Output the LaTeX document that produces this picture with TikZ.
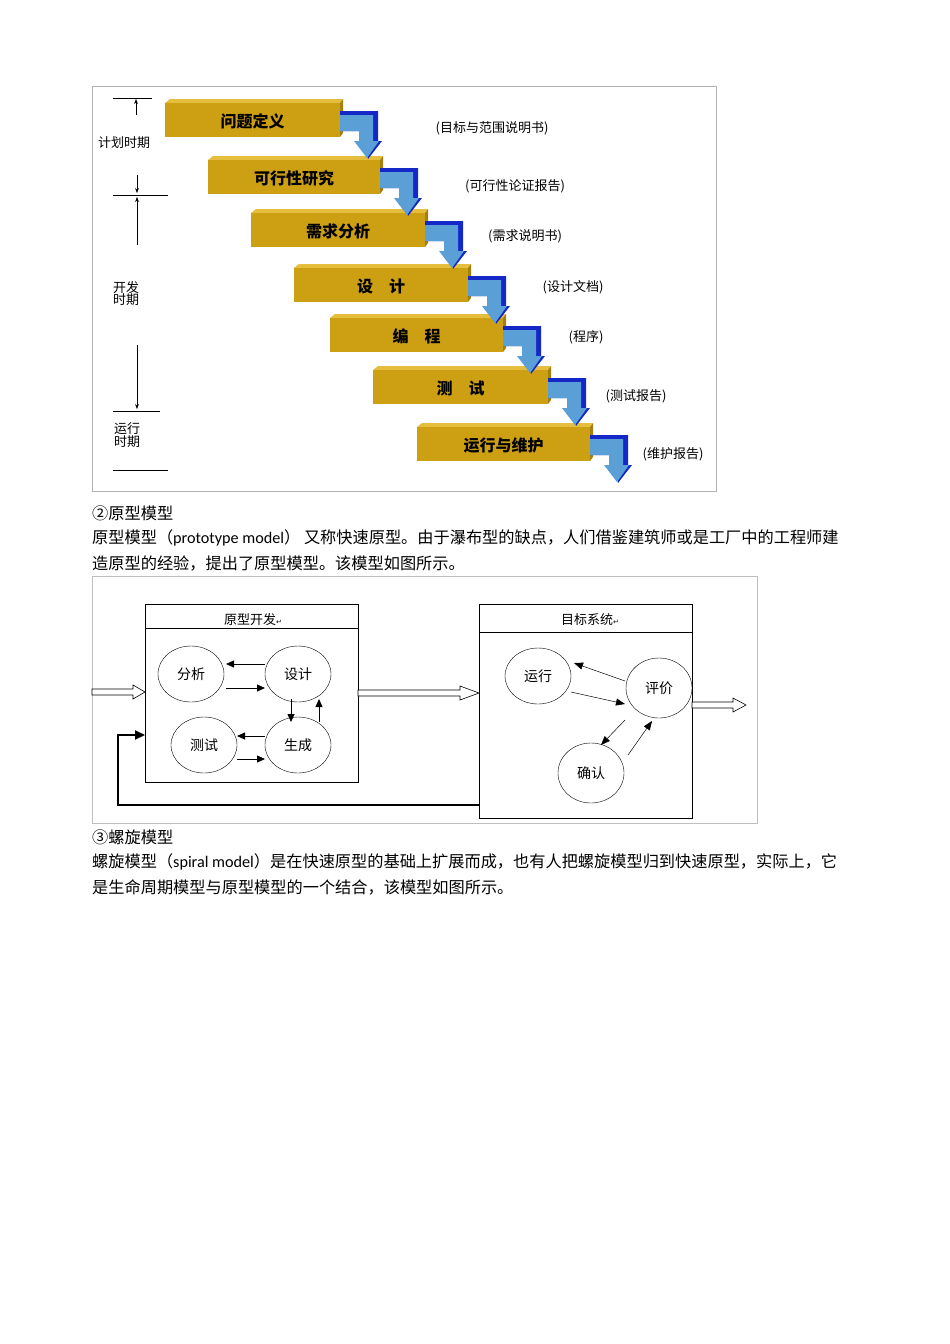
\documentclass[tikz,border=0pt]{standalone}
\usepackage{fontspec}
\setmainfont{Liberation Serif}
\newfontfamily\cjk{Noto Sans CJK SC}
\newfontfamily\lat{Carlito}
\newfontfamily\djv{DejaVu Sans}
\usetikzlibrary{arrows.meta,shapes.geometric}
\definecolor{gold}{RGB}{205,160,20}
\definecolor{goldtop}{RGB}{228,190,60}
\definecolor{lblue}{RGB}{90,160,215}
\definecolor{dblue}{RGB}{20,40,200}
\tikzset{
 bar/.style={font=\cjk\bfseries\fontsize{16}{18}\selectfont},
 ann/.style={font=\cjk\fontsize{13}{15}\selectfont,anchor=center},
 lbl/.style={font=\cjk\fontsize{13}{15}\selectfont,align=left},
 para/.style={font=\cjk\fontsize{16.2}{18}\selectfont,anchor=west,inner sep=0pt},
 bub/.style={draw,ellipse,minimum width=66pt,minimum height=56pt,font=\cjk\fontsize{14}{16}\selectfont,inner sep=0pt},
 ar/.style={-{Triangle[length=8pt,width=7pt]},line width=0.8pt},
 thin/.style={line width=0.5pt},
 hollow/.style={draw,line width=0.6pt,fill=white},
}
\newcommand{\retmark}{{\djv\fontsize{7}{7}\selectfont ↵}}
\begin{document}
\begin{tikzpicture}[x=1pt,y=-1pt]
\useasboundingbox (0,0) rectangle (950,1344);
% frame 1
\draw[gray!60] (92,86) rectangle (716,491);
% bars
\foreach \l/\r/\t/\txt in {165/340/103/问题定义,208/380/160/可行性研究,251/425/213/需求分析,294/468/268/设\quad 计,330/503/318/编\quad 程,373/548/370/测\quad 试,417/590/427/运行与维护}{
  \fill[goldtop] (\l+5,\t-4) -- (\r+3,\t-4) -- (\r,\t) -- (\l,\t) -- cycle;
  \fill[gold] (\l,\t) rectangle (\r,\t+34);
  \fill[gold!80!black] (\r,\t) -- (\r+3,\t-4) -- (\r+3,\t+30) -- (\r,\t+34) -- cycle;
  \node[bar] at ({(\l+\r)/2},\t+18) {\txt};
}
\foreach \r/\t in {340/103,380/160,425/213,468/268,503/318,548/370,590/427}{
  \fill[dblue] (\r,\t+8) -- (\r+38,\t+8) -- (\r+38,\t+38) -- (\r+42,\t+38) -- (\r+28,\t+56) -- (\r+24,\t+38)--(\r+24,\t+28)--(\r,\t+28)--cycle;
  \fill[lblue] (\r,\t+12) -- (\r+33,\t+12) -- (\r+33,\t+38) -- (\r+39,\t+38) -- (\r+27,\t+55) -- (\r+14,\t+38) -- (\r+19,\t+38) -- (\r+19,\t+28) -- (\r,\t+28) -- cycle;
}
\node[ann] (a1) at (492,128) {(目标与范围说明书)};
\node[ann] (a2) at (515,186) {(可行性论证报告)};
\node[ann] (a3) at (525,236) {(需求说明书)};
\node[ann] (a4) at (573,287) {(设计文档)};
\node[ann] (a5) at (586,337) {(程序)};
\node[ann] (a6) at (636,396) {(测试报告)};
\node[ann] (a7) at (673,454) {(维护报告)};
% timeline
\draw[thin] (113,98) -- (152,98);
\draw[thin,-{Stealth[length=5pt]}] (136,115) -- (136,99);
\node[lbl] at (124,143) {计划时期};
\draw[thin,-{Stealth[length=5pt]}] (137,175) -- (137,193);
\draw[thin] (113,195) -- (168,195);
\draw[thin,-{Stealth[length=5pt]}] (137,245) -- (137,197);
\node[lbl,align=center] at (126,294) {开发\\[-3pt]时期};
\draw[thin,-{Stealth[length=5pt]}] (137,345) -- (137,409);
\draw[thin] (113,411) -- (160,411);
\node[lbl,align=left,font=\cjk\fontsize{13}{11}\selectfont] at (127,435) {运行\\时期};
\draw[thin] (113,470) -- (168,470);
% text
\node[para] (h2) at (92,513) {②原型模型};
\node[para] (p1) at (92,538) {原型模型（{\lat prototype model}） 又称快速原型。由于瀑布型的缺点，人们借鉴建筑师或是工厂中的工程师建};
\node[para] (p2) at (92,563) {造原型的经验，提出了原型模型。该模型如图所示。};
% frame 2
\draw[gray!50] (92,576) rectangle (757,823);
\draw[thin] (145,604) rectangle (358,782);
\draw[thin] (145,628) -- (358,628);
\node[font=\cjk\fontsize{13}{15}\selectfont] (t1) at (253,620) {原型开发\retmark};
\draw[thin] (479,604) rectangle (692,818);
\draw[thin] (479,632) -- (692,632);
\node[font=\cjk\fontsize{13}{15}\selectfont] (t2) at (590,620) {目标系统\retmark};
\node[bub] (fx) at (191,674) {分析};
\node[bub] (sj) at (298,674) {设计};
\node[bub] (cs) at (204,745) {测试};
\node[bub] (sc) at (298,745) {生成};
\node[bub] (yx) at (538,676) {运行};
\node[bub,minimum height=60pt] (pj) at (659,688) {评价};
\node[bub,minimum height=60pt] (qr) at (591,773) {确认};
\draw[ar] (265,664) -- (226,664);
\draw[ar] (226,688) -- (265,688);
\draw[ar] (291,699) -- (291,722);
\draw[ar] (319,722) -- (319,699);
\draw[ar] (265,736) -- (237,736);
\draw[ar] (237,759) -- (265,759);
\draw[thin,-{Triangle[length=9pt,width=7pt]}] (625,681) -- (574,663);
\draw[thin,-{Triangle[length=9pt,width=7pt]}] (571,692) -- (625,704);
\draw[thin,-{Triangle[length=9pt,width=7pt]}] (625,720) -- (601,745);
\draw[thin,-{Triangle[length=9pt,width=7pt]}] (628,755) -- (652,721);
% hollow arrows
\draw[hollow] (92,689) -- (133,689) -- (133,685) -- (145,692) -- (133,699) -- (133,695) -- (92,695) -- cycle;
\draw[hollow] (358,690) -- (460,690) -- (460,686) -- (479,693) -- (460,700) -- (460,696) -- (358,696) -- cycle;
\draw[hollow] (692,702) -- (733,702) -- (733,698) -- (746,705) -- (733,712) -- (733,708) -- (692,708) -- cycle;
% feedback
\draw[line width=2pt,-{Triangle[length=10pt,width=9pt]}] (479,805) -- (118,805) -- (118,735) -- (145,735);
% text 3
\node[para] (h3) at (92,837) {③螺旋模型};
\node[para] (p3) at (92,862) {螺旋模型（{\lat spiral model}）是在快速原型的基础上扩展而成，也有人把螺旋模型归到快速原型，实际上，它};
\node[para] (p4) at (92,887) {是生命周期模型与原型模型的一个结合，该模型如图所示。};
\end{tikzpicture}
\end{document}
